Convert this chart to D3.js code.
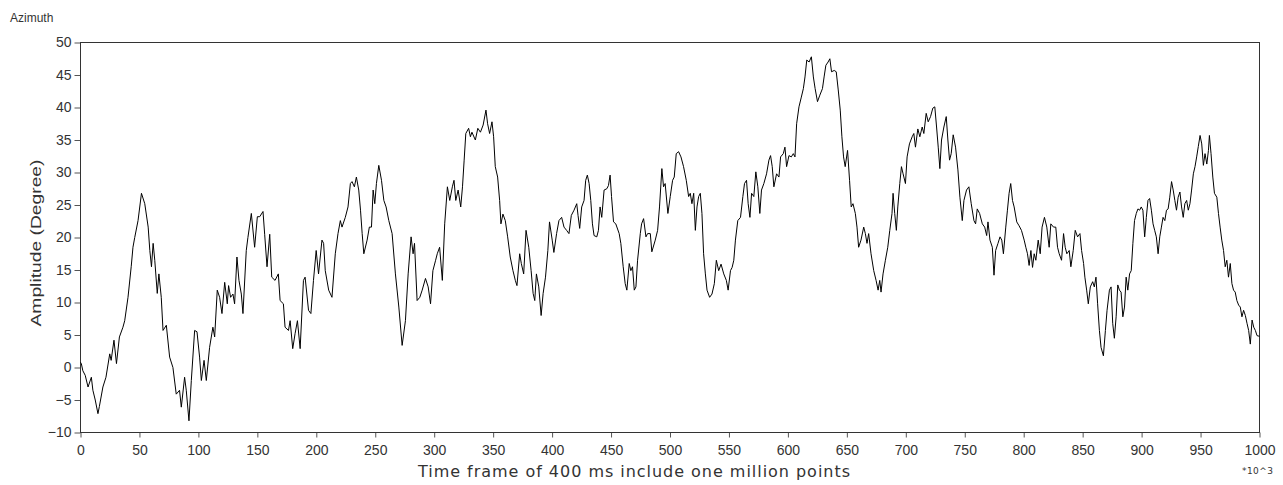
<!DOCTYPE html>
<html>
<head>
<meta charset="utf-8">
<script src="https://cdn.jsdelivr.net/npm/d3@7"></script>
<style>
  html, body { margin: 0; padding: 0; background: #fff; }
  svg { display: block; }
  .tick text { font-family: "Liberation Sans Narrow", "Liberation Sans", Arial, sans-serif; font-size: 14px; fill: #333; }
  .tick line { stroke: #555; }
</style>
</head>
<body>
<script>
// time axis in units of 10^3 samples
const timeK = [
  0,0.7,2,4,6.4,9.2,10.5,12.5,14.8,16,
  19,21.6,24.8,26,28.4,30.5,33,36,37.5,40.3,
  43,44.5,46,48.8,51.7,54.5,57.4,58.8,60.2,61.6,
  63,65.1,66.5,68.5,70,72.8,75.6,78.4,81.2,84,
  85.5,88.3,89.7,92,94,96.8,98.8,101,102.5,104.8,
  106.7,109.5,112.3,113.8,116,118,120,122.3,124.5,125.6,
  127.3,129.3,130.7,132.7,134.4,136.4,137.8,140.6,142,144.9,
  147.7,150,152,154.8,156.2,158.2,160.5,162.2,
  165,167.8,169.3,172.1,173.5,176.4,177.8,180,182,184,
  186.3,189.1,190.5,193.4,195.4,197.6,199.9,201.9,204.8,206.2,
  207.6,210.5,213.3,216.1,218.4,220.4,221.8,224.6,226.9,228.9,
  230.3,232.3,234,236,237.5,238.9,240.3,243.1,245,246.8,
  248.2,249.6,251,253,255.3,257.3,259.2,261.5,264.3,267.1,
  270,272.8,275.6,277.9,280.4,282.1,283.3,285.5,287.8,289.8,
  292.6,294.9,296.9,298.9,301.2,302.6,304.6,306.9,308.9,311.2,
  313.2,315.4,316.8,318.3,320.3,322.5,324,325.4,326.8,
  329.2,330.7,332,334.9,337,339.2,341.5,343.9,345.3,347,
  349,350.4,351.8,353.8,355.5,356.6,358.3,360.3,362.3,364.5,
  366.8,368.8,370.2,372.5,373.9,375.9,377.9,380.2,382.2,383.9,
  385.3,386.7,388.7,390.7,392.4,394.4,396.4,397.8,400.1,401.5,
  403.8,405.8,408.1,410.1,412.3,414.3,416.3,418.6,420.9,422,
  423.4,425.1,427.1,428.5,429.9,431.4,432.8,434.2,435.6,437.9,
  439.3,440.7,442.1,444.1,446.4,447.8,449.2,450.4,452.1,454,
  456.9,458.3,460.3,462,463.4,465.4,466.8,468.2,469.7,471.1,
  472.5,474.8,475.9,477.6,479.6,481,483.3,484.6,487.5,489.5,
  491.1,493.1,494.5,495.9,498.2,500.2,502.2,503.6,505.3,507.3,
  509.3,511.5,513.8,515.8,517.2,518.6,520.1,521.5,522.9,524.3,
  525.7,527.1,528.5,530,531.4,533.6,535.6,537.6,539.3,541.3,
  543.3,545.6,547.8,549.3,551.3,552.7,554.1,555.5,557.5,559.8,
  561.8,563.2,564.9,566.3,567.8,569.2,571.1,572.8,574.5,576.2,
  577.6,579.6,581.9,583.9,585.3,586.7,588.1,590.4,592.4,593.8,
  596.1,597.5,598.9,600.9,602.9,604.6,606,607.4,609.4,611.4,
  613.1,614.5,616,618,619.9,621.6,623.1,625.1,627.1,629.3,
  630.7,632.2,634.1,635.6,637,639.3,641,642.7,644.4,
  645.8,647.2,648.6,650.6,652.3,653.7,655.2,657.2,658.6,660,
  662,664.3,665.7,667.1,668.5,670.5,672.8,674.8,676.5,677.9,
  679,680.7,682.7,684.7,686.4,688.3,689.2,690.6,692,693.2,
  694.9,696.3,697.7,699.7,701.1,703.1,705.4,706.8,708.2,710.2,
  711.9,713.9,715.3,717.3,719,721,722.9,724.6,726.1,727.5,
  728.9,730.3,732.3,734.3,735.7,737.1,738.5,740.2,742.2,744.2,
  745.9,747.9,749.3,751.5,753.5,755.5,757.8,759.2,760.6,762.6,
  764.9,766.9,768.6,769.7,771.4,773.4,774.8,776.2,778.2,779.9,
  781.4,782.8,784.8,786.2,787.6,789,790.5,791.9,794.1,796.1,
  798.1,800.4,801.8,803.2,804.6,806.1,807.5,808.9,810.3,812.3,
  814,815.6,817.6,819.6,821.6,
  823,825.3,827.2,828.7,830.1,832.1,833.8,835.2,836.6,838.6,
  840,842,843.7,845.7,847.7,849.1,850.8,851.9,853.4,854.8,
  856.5,858.5,859.9,861.3,862.7,864.2,865.6,867.6,869.3,870.7,
  872.7,874.1,875.5,876.9,878.4,879.8,881.2,882.6,884.1,885.5,
  886.9,888.3,889.8,891.2,892.6,894,895.5,896.9,898.3,899.7,
  901.1,902.6,904,905.4,906.8,908.3,909.7,911.1,912.5,914,
  915.4,916.8,918.2,919.7,921.1,922.5,923.9,925.4,926.8,928.2,
  929.6,931,932.5,933.9,935.3,936.7,938.2,939.6,941,942.4,
  943.9,945.3,946.7,948.1,949.6,951,952.4,953.8,955.3,956.7,
  957.5,958.9,960.4,961.8,963.8,965.2,966.6,968,969.5,970.9,
  972.3,973.7,975.2,976.6,978,979.4,980.8,982.3,983.7,985.1,
  986.5,988,989.4,990.8,992.2,993.7,995.1,996.5,997.9,1000
];

// azimuth amplitude in degrees, same order as timeK
const azimuthDeg = [
  0.8,0.6,-0.5,-1.2,-3.0,-1.5,-3.5,-5,-7.1,-6,
  -3,-1.5,2.1,1.1,4.2,0.6,4.7,6.2,7.2,10.8,
  15.5,18.5,20,22.6,26.8,25.2,21.6,18,15.5,19.1,
  16.5,11.4,14.4,10.8,5.7,6.5,1.6,0,-4.1,-3.5,
  -6.1,-1.5,-3.5,-8.2,-2,5.7,5.5,1.6,-2,1.1,
  -2,3.1,6.2,4.7,11.9,10.8,8.3,13.1,9.8,12.6,
  10.8,11.3,9.8,17,13.4,11.3,8.3,18,20,23.7,
  18.5,23.2,23.2,24,20.5,15.5,20.5,13.9,
  13.4,14.4,10.3,9.8,6.2,5.7,7.2,2.9,5.2,7.2,
  2.9,13.4,13.9,8.8,8.3,13.4,18,14.4,19.6,19.1,
  14.9,11.9,10.8,17.5,20.6,22.6,21.6,23.1,24.7,28.3,
  28.6,27.8,29.3,27.3,24.2,20.6,17.5,19.6,21.6,21.6,
  27.3,25.2,28.3,31.1,28.8,25.7,24.7,22.6,20.6,14.4,
  9.3,3.4,7.2,14.4,20.1,17.5,19.1,10.3,10.8,11.9,
  13.7,12.4,9.8,14.9,16.5,17.5,18.5,13.4,22.1,27.8,
  25.7,27.8,28.8,25.7,27.3,24.7,27.8,31.9,36,
  36.8,35.5,36.2,35,36.8,36.2,37.3,39.6,37.5,36,
  37.8,35.5,30.9,29.3,25.7,22.1,23.6,22.6,20.1,17,
  14.9,13.4,12.6,17.5,16,14.4,21.1,18.5,14.9,11.4,
  10.3,14.4,12.4,8,11.4,13.9,18,22.4,19.6,17.7,
  20.6,22.6,23.1,21.6,21.1,20.6,23.4,24.2,25.2,23.4,
  21.4,24.7,25.7,28.8,29.6,28.3,25.7,22.1,20.3,20.1,
  21.1,24.7,23.1,27.3,27.5,28,29.6,26.3,22.4,22.1,
  20.6,19.1,15.5,12.9,11.9,16,14.9,15.5,11.9,12.4,
  16.5,20.6,22.1,22.9,20.1,20.6,20.6,17.8,19.6,21.1,
  24.7,30.6,27.8,28.3,23.7,26.3,28.8,29.3,32.9,33.2,
  32.4,30.9,28.8,26.3,26.8,25.2,26.8,21.1,24.7,26.3,
  26.8,23.7,17.5,14.4,11.9,10.8,11.3,12.9,16.5,14.9,
  15.9,14.4,13.4,11.9,14.9,15.4,16.5,19.6,22.6,23.1,
  26.3,28.3,28.8,25.2,23.1,26.8,26.3,30.1,27.8,23.7,
  27.3,28.3,29.8,31.9,32.6,30.9,27.8,29.8,29.3,32.4,
  32.9,33.9,30.9,32.6,32.4,32.9,32.4,37.5,40.1,41.6,
  42.9,44.7,47.3,47,47.8,44.7,42.9,40.9,41.9,42.9,
  44.7,46.5,47,47.5,45.5,45.7,45.5,42.7,39.6,
  35.5,32.4,30.9,33.4,28.8,24.7,25.2,23.7,21.6,18.5,
  19.6,21.6,20.6,19.1,20.6,17.5,14.9,13.4,11.9,13.4,
  11.6,14.4,16.5,18.5,21.1,23.7,26.8,23.7,21.1,24.7,
  28.3,30.9,29.8,28.3,32.4,34.4,35.5,36,33.9,36.7,
  35.5,37,36,39.1,37.8,38.6,39.9,40.1,37,33.9,
  30.6,35,37,38.6,35,31.9,32.9,35.8,33.9,30.4,
  26.2,22.6,25.7,27.3,27.8,25.2,22.6,22.1,24.4,23.7,
  22.1,21.6,20.3,22.4,19.6,18.5,14.2,18,19.1,20.1,
  19.6,17.5,21.6,24.2,26.8,28.3,25.7,24.7,22.4,21.8,
  21.1,19.6,18.5,17.5,15.7,18,15.4,17.5,16.5,19.6,
  17.5,21.6,23.1,21.6,18.5,
  22.1,21.6,21.6,18.5,17.5,16.5,20.6,18.5,17.5,18,
  15.5,18,21.1,20.1,20.6,18,16,13.9,11.9,9.8,
  12.4,13.2,12.4,13.9,9.8,5.7,3.1,1.8,5.7,8.8,
  11.9,12.4,6.8,4.5,7.8,12.7,11.9,11.6,7.8,9.3,
  13.9,11.9,14.4,14.9,19.1,22.6,23.7,24.4,24.2,24.7,
  24.2,20.1,23.1,25.7,26,24.2,22.1,21.1,20.1,17.5,
  20.1,21.6,23.1,22.6,24.2,24.4,26.2,28.6,27.3,25.7,
  24.2,26.2,27,24.7,23.1,25.2,25.7,24.2,25.2,27.3,
  29.8,30.9,32.4,34,35.7,34.4,31.1,32.9,31.3,33.4,
  35.7,32.9,29.3,26.8,26.2,23.7,21.6,19.6,18,15.5,
  16.5,13.9,16,12.9,11.9,11.6,10.3,9.6,9.3,7.8,
  8.8,8,6.8,5.7,3.6,7.3,6.2,5.7,4.9,4.8
];

const xTicks = d3.range(0, 1001, 50);
const yTicks = d3.range(-10, 51, 5);

const width = 1283, height = 485;
const plotLeft = 80.5, plotRight = 1259.5, plotTop = 42.5, plotBottom = 432.5;

const svg = d3.select('body')
    .append('svg')
    .attr('width', width)
    .attr('height', height);

const x = d3.scaleLinear().domain([0, 1000]).range([plotLeft, plotRight]);
const y = d3.scaleLinear().domain([-10, 50]).range([plotBottom, plotTop]);

// axes
const xAxis = svg.append('g')
    .attr('transform', `translate(0,${plotBottom})`)
    .call(d3.axisBottom(x).tickValues(xTicks).tickSize(5).tickPadding(8).tickFormat(d3.format('d')));
xAxis.select('.domain').remove();

const yAxis = svg.append('g')
    .attr('transform', `translate(${plotLeft},0)`)
    .call(d3.axisLeft(y).tickValues(yTicks).tickSize(6).tickPadding(3).tickFormat(d3.format('d')));
yAxis.select('.domain').remove();

// plot frame
svg.append('rect')
    .attr('x', plotLeft)
    .attr('y', plotTop)
    .attr('width', plotRight - plotLeft)
    .attr('height', plotBottom - plotTop)
    .attr('fill', 'none')
    .attr('stroke', '#333')
    .attr('stroke-width', 1);

// trace
const trace = d3.zip(timeK, azimuthDeg);
const line = d3.line()
    .x(d => x(d[0]))
    .y(d => y(d[1]));

svg.append('path')
    .datum(trace)
    .attr('d', line)
    .attr('fill', 'none')
    .attr('stroke', '#000')
    .attr('stroke-width', 1)
    .attr('stroke-linejoin', 'miter');

// labels
svg.append('text')
    .attr('x', 10)
    .attr('y', 22)
    .attr('font-family', '"Liberation Sans", Arial, sans-serif')
    .attr('font-size', 12)
    .attr('fill', '#333')
    .text('Azimuth');

svg.append('text')
    .attr('transform', 'translate(41,243) rotate(-90)')
    .attr('text-anchor', 'middle')
    .attr('font-family', '"Liberation Sans", Arial, sans-serif')
    .attr('font-size', 15)
    .attr('fill', '#333')
    .attr('textLength', 167)
    .attr('lengthAdjust', 'spacingAndGlyphs')
    .text('Amplitude (Degree)');

svg.append('text')
    .attr('x', 634)
    .attr('y', 477)
    .attr('text-anchor', 'middle')
    .attr('font-family', '"DejaVu Sans", sans-serif')
    .attr('font-size', 16)
    .attr('fill', '#333')
    .attr('textLength', 432)
    .attr('lengthAdjust', 'spacing')
    .text('Time frame of 400 ms include one million points');

svg.append('text')
    .attr('x', 1242)
    .attr('y', 474)
    .attr('font-family', '"DejaVu Sans", sans-serif')
    .attr('font-size', 9)
    .attr('fill', '#333')
    .attr('textLength', 31)
    .attr('lengthAdjust', 'spacing')
    .text('*10^3');
</script>
</body>
</html>
